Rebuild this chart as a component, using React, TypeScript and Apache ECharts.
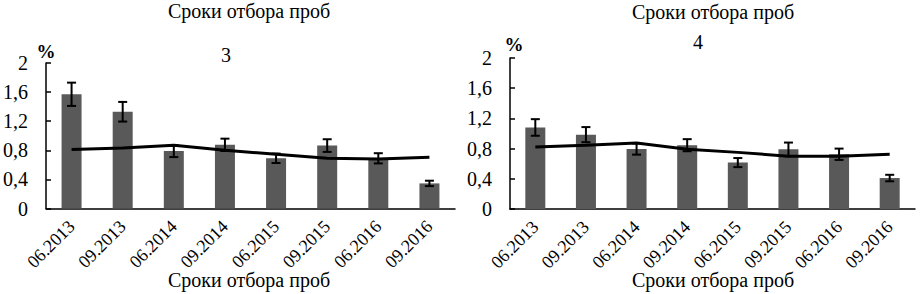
import React, { useEffect, useRef } from "react";
import * as echarts from "echarts";

const categories = ["06.2013", "09.2013", "06.2014", "09.2014", "06.2015", "09.2015", "06.2016", "09.2016"];
const yTicks = [0, 0.4, 0.8, 1.2, 1.6, 2];

const bars3 = [1.57, 1.33, 0.79, 0.875, 0.69, 0.865, 0.69, 0.345];
const err3 = [0.16, 0.135, 0.083, 0.085, 0.065, 0.087, 0.07, 0.037];
const line3 = [0.81, 0.83, 0.87, 0.8, 0.745, 0.69, 0.68, 0.705];

const bars4 = [1.08, 0.985, 0.795, 0.845, 0.615, 0.79, 0.725, 0.41];
const err4 = [0.11, 0.1, 0.075, 0.08, 0.06, 0.09, 0.075, 0.043];
const line4 = [0.82, 0.845, 0.875, 0.79, 0.75, 0.7, 0.7, 0.725];

const panelTitles = ["3", "4"];
const axisTitle = "Сроки отбора проб";
const unit = "%";

const FONT = "Liberation Serif, Times New Roman, serif";

export default function App() {
  const ref = useRef<HTMLDivElement>(null);
  useEffect(() => {
    document.body.style.margin = "0";
    const chart = echarts.init(ref.current!, null, { renderer: "svg" });

    const grids = [
      { left: 43, top: 63, width: 412, height: 145.5 },
      { left: 510, top: 58, width: 405, height: 151 },
    ];

    const xAxis = grids.map((_, i) => ({
      type: "category",
      gridIndex: i,
      data: categories,
      boundaryGap: true,
      axisLine: { lineStyle: { color: "#000", width: 1.5 } },
      axisTick: { inside: true, length: 4, lineStyle: { color: "#000", width: 1.5 } },
      axisLabel: {
        rotate: 45,
        interval: 0,
        margin: 15,
        color: "#000",
        fontFamily: FONT,
        fontSize: 18,
      },
    }));

    const yAxis = grids.map((_, i) => ({
      type: "value",
      gridIndex: i,
      min: yTicks[0],
      max: yTicks[yTicks.length - 1],
      interval: 0.4,
      splitLine: { show: false },
      axisLine: { show: true, lineStyle: { color: "#000", width: 1.5 } },
      axisTick: { show: true, inside: true, length: 5, lineStyle: { color: "#000", width: 1.5 } },
      axisLabel: {
        margin: 18,
        color: "#000",
        fontFamily: FONT,
        fontSize: 20,
        formatter: (v: number) => String(+v.toFixed(1)).replace(".", ","),
      },
    }));

    const errRender = (params: any, api: any) => {
      const x = api.value(0);
      const lo = api.coord([x, api.value(1)]);
      const hi = api.coord([x, api.value(2)]);
      const hw = 4.5;
      const style = { stroke: "#000", lineWidth: 2 };
      return {
        type: "group",
        children: [
          { type: "line", shape: { x1: lo[0], y1: lo[1], x2: hi[0], y2: hi[1] }, style },
          { type: "line", shape: { x1: lo[0] - hw, y1: lo[1], x2: lo[0] + hw, y2: lo[1] }, style },
          { type: "line", shape: { x1: hi[0] - hw, y1: hi[1], x2: hi[0] + hw, y2: hi[1] }, style },
        ],
      };
    };

    const panels = [
      { bars: bars3, err: err3, line: line3 },
      { bars: bars4, err: err4, line: line4 },
    ];

    const series: any[] = [];
    panels.forEach((p, i) => {
      series.push({
        type: "bar",
        xAxisIndex: i,
        yAxisIndex: i,
        data: p.bars,
        barWidth: 20,
        itemStyle: { color: "#595959" },
        z: 2,
      });
      series.push({
        type: "custom",
        xAxisIndex: i,
        yAxisIndex: i,
        renderItem: errRender,
        encode: { x: 0, y: [1, 2] },
        data: p.bars.map((b, k) => [k, b - p.err[k], b + p.err[k]]),
        z: 3,
      });
      series.push({
        type: "line",
        xAxisIndex: i,
        yAxisIndex: i,
        data: p.line,
        symbol: "none",
        lineStyle: { color: "#000", width: 3 },
        z: 4,
      });
    });

    const txt = (x: number, y: number, text: string, size: number, weight = "normal") => ({
      type: "text",
      x,
      y,
      style: {
        text,
        fontFamily: FONT,
        fontSize: size,
        fontWeight: weight,
        fill: "#000",
        textAlign: "center",
        textVerticalAlign: "middle",
        align: "center",
        verticalAlign: "middle",
      },
    });

    chart.setOption({
      animation: false,
      grid: grids,
      xAxis,
      yAxis,
      series,
      graphic: [
        txt(249, 10.5, axisTitle, 20),
        txt(249, 280, axisTitle, 20),
        txt(226, 55, panelTitles[0], 20),
        txt(46, 51, unit, 19, "bold"),
        txt(713, 12, axisTitle, 20),
        txt(713, 280, axisTitle, 20),
        txt(698, 41.5, panelTitles[1], 20),
        txt(514, 44, unit, 19, "bold"),
      ],
    });
    return () => chart.dispose();
  }, []);
  return <div ref={ref} style={{ width: 921, height: 294 }} />;
}
